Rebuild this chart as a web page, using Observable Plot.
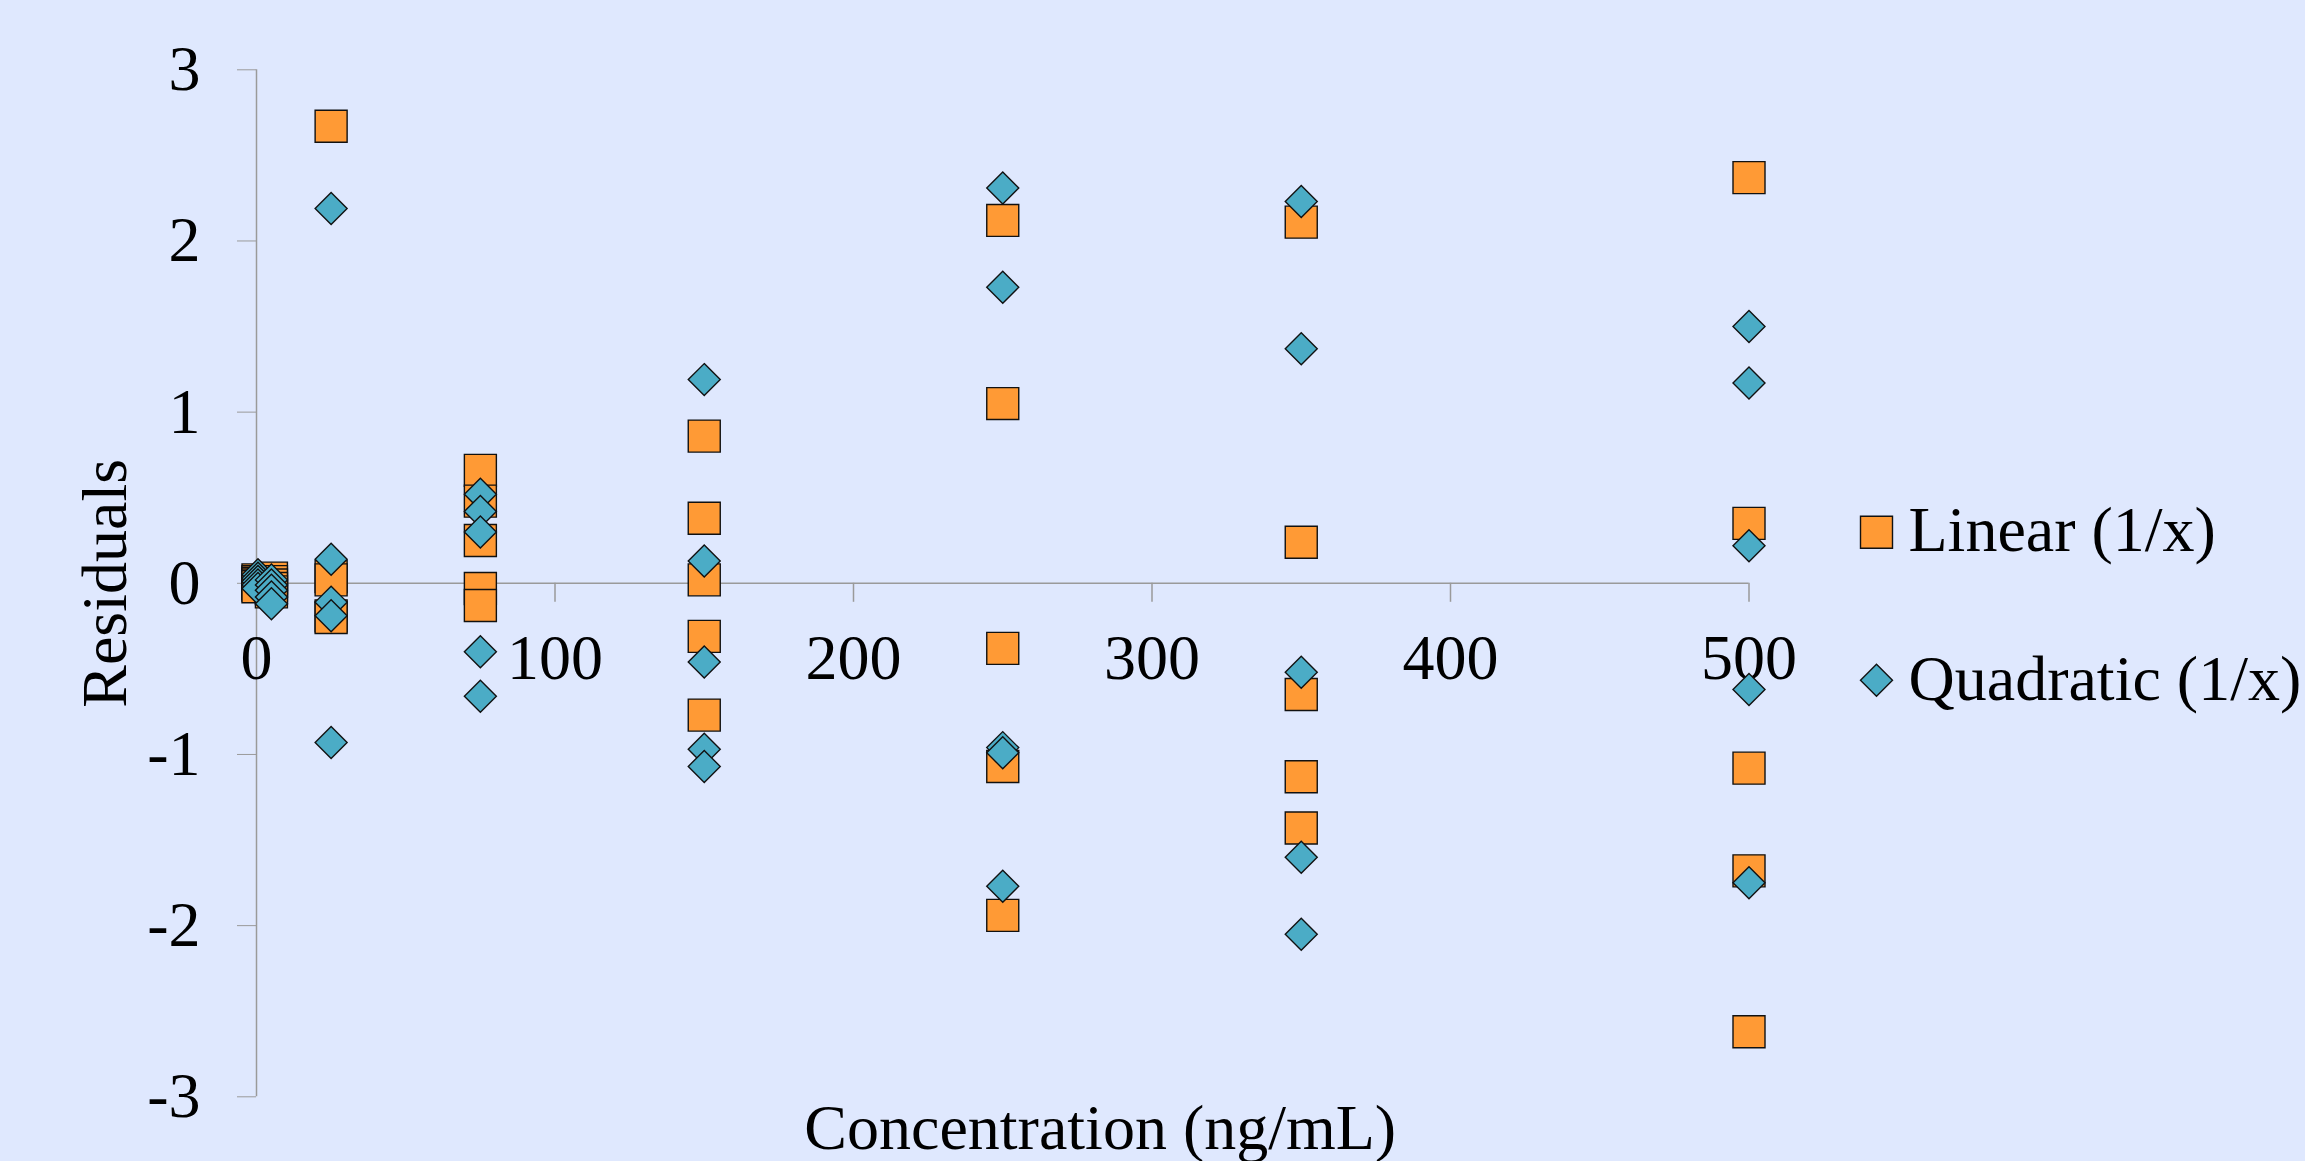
<!DOCTYPE html>
<html>
<head>
<meta charset="utf-8">
<script src="https://cdn.jsdelivr.net/npm/d3@7"></script>
<script src="https://cdn.jsdelivr.net/npm/@observablehq/plot@0.6"></script>
<style>
  html, body { margin: 0; padding: 0; background: #dfe8fe; }
  #chart svg g[aria-label="y-axis tick"] { stroke: #9a9a9a; }
</style>
</head>
<body>
<div id="chart"></div>
<script>
// ---- data ----
const concentrations = [0.5, 5, 25, 75, 150, 250, 350, 500];
const linearResiduals = [
  [0.02, 0.01, 0.0, -0.01, -0.02],
  [0.03, 0.01, -0.01, -0.03, -0.05],
  [2.67, 0.04, 0.02, -0.19, -0.20],
  [0.66, 0.48, 0.25, -0.03, -0.13],
  [0.86, 0.38, 0.02, -0.31, -0.77],
  [2.12, 1.05, -0.38, -1.07, -1.94],
  [2.11, 0.24, -0.65, -1.13, -1.43],
  [2.37, 0.35, -1.08, -1.68, -2.62]
];
const quadraticResiduals = [
  [0.05, 0.03, 0.01, -0.01, -0.03],
  [0.02, -0.01, -0.04, -0.08, -0.12],
  [2.19, 0.14, -0.11, -0.19, -0.93],
  [0.52, 0.42, 0.30, -0.40, -0.66],
  [1.19, 0.13, -0.46, -0.97, -1.07],
  [2.31, 1.73, -0.96, -0.99, -1.77],
  [2.23, 1.37, -0.52, -1.60, -2.05],
  [1.50, 1.17, 0.22, -0.62, -1.75]
];
const seriesNames = ["Linear (1/x)", "Quadratic (1/x)"];
const xTicks = [0, 100, 200, 300, 400, 500];
const yTicks = [-3, -2, -1, 0, 1, 2, 3];
const xTitle = "Concentration (ng/mL)";
const yTitle = "Residuals";

// ---- table built from the arrays ----
const linearRows = concentrations.flatMap((c, i) => linearResiduals[i].map(v => ({conc: c, resid: v})));
const quadRows = concentrations.flatMap((c, i) => quadraticResiduals[i].map(v => ({conc: c, resid: v})));

const orange = "#ff9a35";
const teal = "#4bacc6";
const gray = "#9a9a9a";

const chart = Plot.plot({
  width: 2305,
  height: 1161,
  marginLeft: 256,
  marginRight: 556.5,
  marginTop: 69.3,
  marginBottom: 64.7,
  style: {background: "#dfe8fe", fontFamily: "'Liberation Serif', 'Times New Roman', serif", fontSize: "64px", color: "black"},
  x: {domain: [0, 500], axis: null},
  y: {domain: [-3, 3], ticks: yTicks, tickSize: 19, tickPadding: 37, tickFormat: d => String(d), label: null},
  marks: [
    Plot.ruleX([0], {stroke: gray, strokeWidth: 1.5}),
    Plot.ruleY([0], {x1: 0, x2: 500, stroke: gray, strokeWidth: 1.5}),
    Plot.ruleX(xTicks, {x: d => d, y1: 0, y2: 0, insetBottom: -19, stroke: gray, strokeWidth: 1.5}),
    Plot.text(xTicks, {x: d => d, y: 0, dy: 75, text: d => String(d), fill: "black"}),
    Plot.dot(linearRows, {x: "conc", y: "resid", symbol: "square", r: 18.05, fill: orange, stroke: "#111", strokeWidth: 1.4}),
    Plot.dot(quadRows, {x: "conc", y: "resid", symbol: "diamond2", r: 14.41, fill: teal, stroke: "#111", strokeWidth: 1.4}),
    // legend
    Plot.dot([seriesNames[0]], {frameAnchor: "right", dx: 127.5, dy: -51, symbol: "square", r: 18.05, fill: orange, stroke: "#111", strokeWidth: 1.4}),
    Plot.dot([seriesNames[1]], {frameAnchor: "right", dx: 127.5, dy: 97, symbol: "diamond2", r: 14.41, fill: teal, stroke: "#111", strokeWidth: 1.4}),
    Plot.text([seriesNames[0]], {frameAnchor: "right", dx: 159.5, dy: -32, textAnchor: "start", lineAnchor: "bottom", fill: "black"}),
    Plot.text([seriesNames[1]], {frameAnchor: "right", dx: 159.5, dy: 116.5, textAnchor: "start", lineAnchor: "bottom", fill: "black"}),
    // axis titles
    Plot.text([yTitle], {frameAnchor: "left", dx: -150.5, rotate: -90, textAnchor: "middle", fill: "black"}),
    Plot.text([xTitle], {frameAnchor: "bottom", dx: 97.5, dy: 52, lineAnchor: "bottom", fill: "black"})
  ]
});
document.getElementById("chart").append(chart);
</script>
</body>
</html>
